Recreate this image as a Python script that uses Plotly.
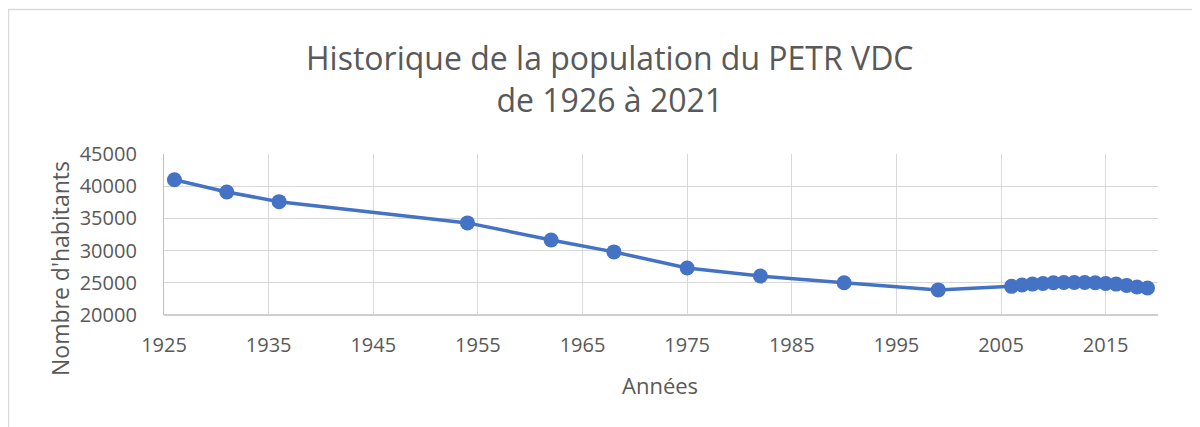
import plotly.graph_objects as go

years = [1926, 1931, 1936, 1954, 1962, 1968, 1975, 1982, 1990, 1999,
         2006, 2007, 2008, 2009, 2010, 2011, 2012, 2013, 2014, 2015,
         2016, 2017, 2018, 2019]
population = [41000, 39100, 37600, 34300, 31650, 29800, 27300, 26050, 25000, 23900,
              24450, 24650, 24800, 24900, 25000, 25050, 25050, 25050, 25000, 24900,
              24800, 24600, 24350, 24200]

title_text = "Historique de la population du PETR VDC<br>de 1926 à 2021"
x_title = "Années"
y_title = "Nombre d'habitants"

FONT = "Open Sans"
TXT = "#595959"
GRID = "#D9D9D9"
BLUE = "#4472C4"

# page has an 8px body margin; figure coordinates are page coords minus 8
OFF = 8
W, H = 1192, 419
L, R, T, B = 156, 42, 146, 112
pw = W - L - R
ph = H - T - B


def px_x(px):
    return (px - OFF - L) / pw


def px_y(py):
    return (H - B - (py - OFF)) / ph


fig = go.Figure()
fig.add_trace(go.Scatter(
    x=years, y=population, mode="lines+markers",
    line=dict(color=BLUE, width=3.5),
    marker=dict(color=BLUE, size=15),
    showlegend=False,
))

fig.update_layout(
    width=W, height=H,
    margin=dict(l=L, r=R, t=T, b=B, autoexpand=False),
    paper_bgcolor="white", plot_bgcolor="white",
    font=dict(family=FONT, color=TXT),
    xaxis=dict(range=[1925, 2020], tick0=1925, dtick=10, showgrid=True,
               gridcolor=GRID, gridwidth=1.3, zeroline=False,
               showline=False, ticks="", ticklabelstandoff=16,
               tickformat="d",
               tickfont=dict(size=20, color=TXT, family=FONT)),
    yaxis=dict(range=[20000, 45000], dtick=5000, showgrid=True,
               gridcolor=GRID, gridwidth=1.3, zeroline=False,
               showline=True, linecolor="#BFBFBF", linewidth=1.3,
               ticks="", ticklabelstandoff=22, tickformat="d",
               tickfont=dict(size=20, color=TXT, family=FONT)),
    annotations=[
        dict(text=title_text, x=px_x(610), y=px_y(79), xref="paper", yref="paper",
             showarrow=False, xanchor="center", yanchor="middle",
             font=dict(size=32, color=TXT, family=FONT)),
        dict(text=x_title, x=px_x(660), y=px_y(385), xref="paper", yref="paper",
             showarrow=False, xanchor="center", yanchor="middle",
             font=dict(size=22, color=TXT, family=FONT)),
        dict(text=y_title, x=px_x(60), y=px_y(269), xref="paper", yref="paper",
             showarrow=False, xanchor="center", yanchor="middle", textangle=-90,
             font=dict(size=23, color=TXT, family=FONT)),
    ],
    shapes=[
        dict(type="line", xref="paper", yref="paper", x0=px_x(8), x1=px_x(1210),
             y0=px_y(9.5), y1=px_y(9.5), line=dict(color=GRID, width=1.5)),
        dict(type="line", xref="paper", yref="paper", x0=px_x(8.5), x1=px_x(8.5),
             y0=px_y(9.5), y1=px_y(440), line=dict(color=GRID, width=1.5)),
        dict(type="line", xref="paper", yref="paper", x0=0, x1=1,
             y0=0, y1=0, line=dict(color="#BFBFBF", width=1.5), layer="below"),
    ],
)

fig.write_html("out.html")
